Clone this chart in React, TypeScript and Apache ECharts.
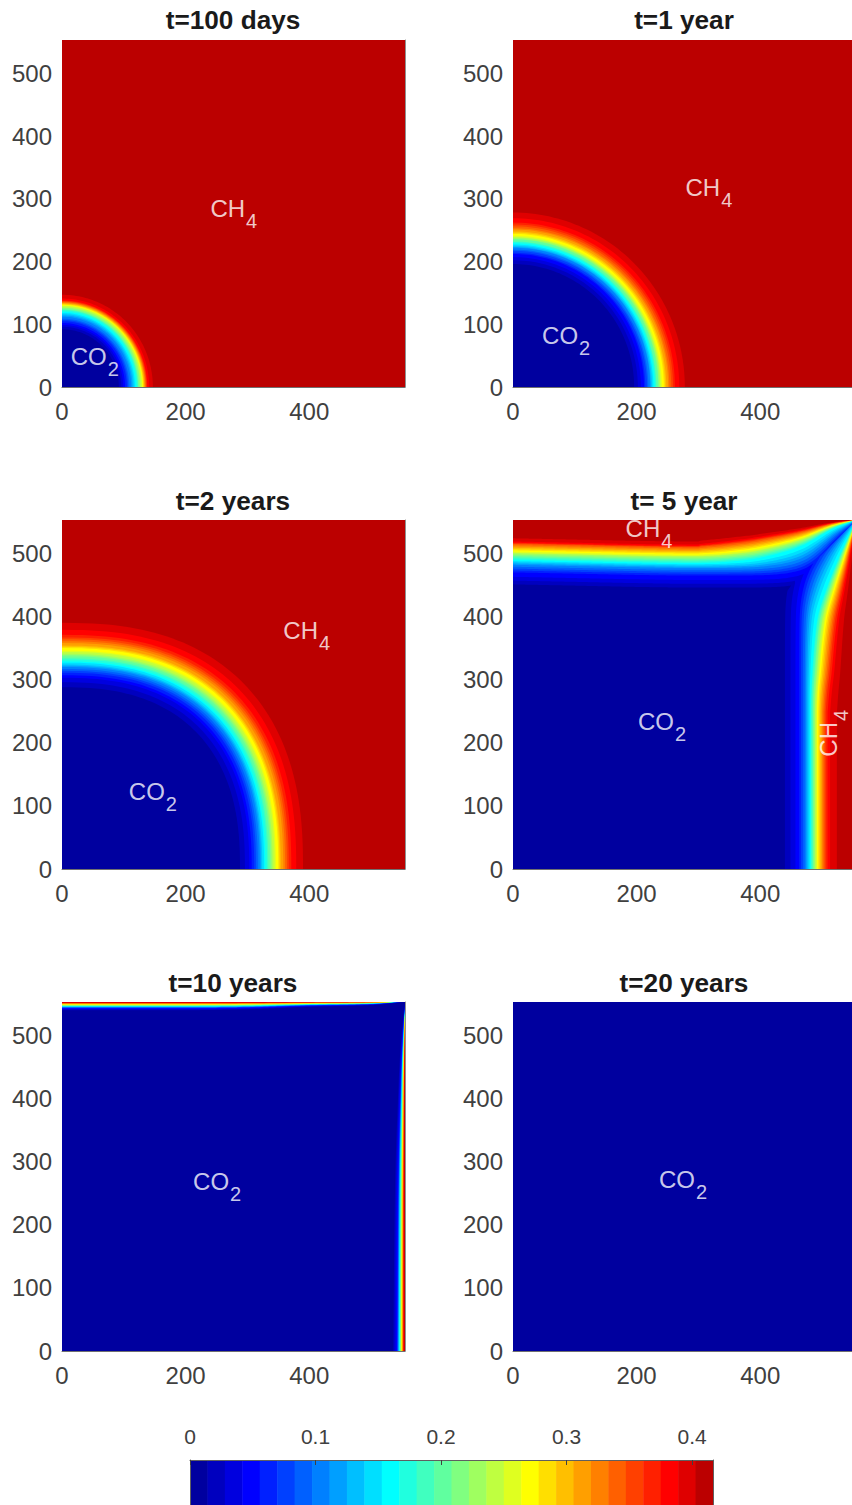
import React, { useEffect, useRef } from "react";
import * as echarts from "echarts";

// Filled-contour colours, low to high value (30 levels)
const bandColors = [
  "#00009F", "#0000BF", "#0000DF", "#0000FF", "#0020FF", "#0040FF", "#0060FF", "#0080FF", "#009FFF", "#00BFFF",
  "#00DFFF", "#00FFFF", "#20FFDF", "#40FFBF", "#60FF9F", "#80FF80", "#9FFF60", "#BFFF40", "#DFFF20", "#FFFF00",
  "#FFDF00", "#FFBF00", "#FF9F00", "#FF8000", "#FF6000", "#FF4000", "#FF2000", "#FF0000", "#DF0000", "#BB0000",
];

const titles = ["t=100 days", "t=1 year", "t=2 years", "t= 5 year", "t=10 years", "t=20 years"];
const xTicks = [0, 200, 400];
const yTicks = [0, 100, 200, 300, 400, 500];
const colorbarTicks = [0, 0.1, 0.2, 0.3, 0.4];
const colorbarMax = 0.4167;
const xDomain = 555;
const yDomain = 553;

// Distance of each contour (upper edge of bands 1..29) from the origin, read along y=0
const frontT100d = [92, 96, 99, 102, 105, 107, 109, 112, 114, 116, 118, 120, 122, 123, 124, 126, 127, 129, 130, 131, 132, 133, 134, 135, 136, 137, 138, 141, 147];
const frontT1y = [196, 202, 207, 212, 214, 217, 219, 222, 223, 225, 227, 229, 231, 232, 235, 236, 238, 239, 241, 244, 246, 248, 251, 253, 256, 259, 262, 269, 278];
const frontT2y = [288, 296, 303, 307, 311, 314, 317, 320, 322, 324, 327, 329, 332, 334, 337, 339, 341, 344, 346, 350, 352, 354, 358, 361, 364, 367, 371, 379, 390];
const frontT5y = [440, 449, 457, 463, 466, 469, 472, 474, 476, 478, 480, 482, 483, 485, 486, 488, 489, 491, 492, 494, 496, 498, 500, 502, 504, 506, 509, 513, 524];
const frontT5yTop = [446, 452, 458, 465, 468, 471, 474, 477, 479, 481, 483, 485, 487, 489, 491, 493, 495, 496, 498, 500, 502, 504, 506, 508, 510, 511, 512, 514, 519];
const frontT10y = [536, 538, 540, 542, 542.5, 543, 543.5, 544, 544.5, 545, 545.5, 546, 546.5, 547, 547.5, 548, 548.3, 548.6, 549, 549.5, 550, 550.5, 551, 551.3, 551.6, 552, 552.5, 553, 554];
const frontT10yTop = [540, 541, 542, 543, 543.4, 543.8, 544.2, 544.6, 545, 545.4, 545.7, 546, 546.4, 546.8, 547.2, 547.6, 548, 548.3, 548.6, 549, 549.4, 549.8, 550.2, 550.6, 551, 551.3, 551.6, 552, 552.5];
const frontT20y: number[] = [];

// How far the contours climb toward the top-right corner (position along the edge, fraction of the gap)
const topBend5y: [number, number][] = [[0, 0], [250, 0], [300, 0], [350, 0.03], [400, 0.12], [464, 0.38], [518, 0.8], [555, 1]];
const rightBend5y: [number, number][] = [[0, 0], [250, 0], [300, 0.02], [395, 0.14], [443, 0.34], [495, 0.63], [522, 0.8], [553, 1]];
const topRise5y: [number, number][] = [[0, 5], [100, 3], [200, 1], [280, 0], [555, 0]];
const topBend10y: [number, number][] = [[0, 0], [200, 0], [300, 0.1], [400, 0.4], [500, 0.6], [555, 1]];
const rightBend10y: [number, number][] = [[0, 0], [200, 0.1], [300, 0.2], [400, 0.4], [460, 0.55], [520, 0.8], [553, 1]];

// Text labels in data coordinates: [x, y, name, rotated]
const notesT100d: [number, number, string, boolean][] = [[53, 41, "CO", false], [278, 277, "CH", false]];
const notesT1y: [number, number, string, boolean][] = [[86, 75, "CO", false], [317, 310, "CH", false]];
const notesT2y: [number, number, string, boolean][] = [[147, 116, "CO", false], [396, 371, "CH", false]];
const notesT5y: [number, number, string, boolean][] = [[220, 533, "CH", false], [241, 226, "CO", false], [518, 215, "CH", true]];
const notesT10y: [number, number, string, boolean][] = [[251, 261, "CO", false]];
const notesT20y: [number, number, string, boolean][] = [[275, 264, "CO", false]];

const FONT = '"Liberation Sans", Arial, sans-serif';

const boxes = [
  { left: 62, top: 40, height: 347, titleTop: 7 }, { left: 513, top: 40, height: 347, titleTop: 7 },
  { left: 62, top: 520, height: 349, titleTop: 488 }, { left: 513, top: 520, height: 349, titleTop: 488 },
  { left: 62, top: 1002, height: 349, titleTop: 970 }, { left: 513, top: 1002, height: 349, titleTop: 970 },
];
const PANEL_W = 343;

const panels: any[] = [
  { front: frontT100d, notes: notesT100d, base: 29, roundness: 2 },
  { front: frontT1y, notes: notesT1y, base: 29, roundness: 2 },
  { front: frontT2y, notes: notesT2y, base: 29, roundness: 2.45 },
  { front: frontT5y, frontTop: frontT5yTop, notes: notesT5y, base: 29, top: topBend5y, right: rightBend5y, rise: topRise5y, shaped: true },
  { front: frontT10y, frontTop: frontT10yTop, notes: notesT10y, base: 29, top: topBend10y, right: rightBend10y },
  { front: frontT20y, notes: notesT20y, base: 0, roundness: 2 },
];

function lookup(tbl: [number, number][], x: number, limit = 1): number {
  let i = 0;
  while (i < tbl.length - 2 && x > tbl[i + 1][0]) i++;
  const [x0, y0] = tbl[i];
  const [x1, y1] = tbl[i + 1];
  const prev = tbl[Math.max(0, i - 1)];
  const next = tbl[Math.min(tbl.length - 1, i + 2)];
  const h = x1 - x0;
  const t = Math.min(1, Math.max(0, (x - x0) / h));
  const m0 = ((y1 - prev[1]) / (x1 - prev[0])) * h;
  const m1 = ((next[1] - y0) / (next[0] - x0)) * h;
  const t2 = t * t;
  const t3 = t2 * t;
  const v = (2 * t3 - 3 * t2 + 1) * y0 + (t3 - 2 * t2 + t) * m0 + (-2 * t3 + 3 * t2) * y1 + (t3 - t2) * m1;
  return Math.max(0, Math.min(limit, v));
}

function contourPoints(panel: any, band: number, reach: number, reachTop: number): number[][] {
  if (!panel.top) {
    const pts: number[][] = [[0, 0]];
    const e = 2 / panel.roundness;
    for (let d = 0; d <= 90; d += 1.5) {
      const a = (d * Math.PI) / 180;
      pts.push([reach * Math.pow(Math.max(0, Math.cos(a)), e), reach * Math.pow(Math.max(0, Math.sin(a)), e)]);
    }
    return pts;
  }
  let sharp = 1;
  if (panel.shaped) {
    sharp = band <= 11 ? 1 + (2 * (11 - band)) / 11 : 1 - ((band - 11) * 0.5) / 17;
  }
  const upper: number[][] = [];
  for (let x = 0; x <= xDomain; x += 3) {
    const rise = panel.rise ? lookup(panel.rise, x, 100) : 0;
    const y = reachTop + rise + (yDomain - reachTop - rise) * Math.pow(lookup(panel.top, x), sharp);
    if (y < x * (yDomain / xDomain)) break;
    upper.push([x, y]);
  }
  const side: number[][] = [];
  for (let y = 0; y <= yDomain; y += 3) {
    const x = reach + (xDomain - reach) * Math.pow(lookup(panel.right, y), sharp);
    if (x * (yDomain / xDomain) < y) break;
    side.push([x, y]);
  }
  if (upper[upper.length - 1][0] >= xDomain - 3) upper.push([xDomain, yDomain]);
  return [[0, 0], ...upper, ...side.reverse()];
}

function buildOption() {
  const grid: any[] = [];
  const xAxis: any[] = [];
  const yAxis: any[] = [];
  const series: any[] = [];
  const title: any[] = [];
  const tickText = { color: "#404040", fontFamily: FONT, fontSize: 24 };

  panels.forEach((panel, p) => {
    const box = boxes[p];
    grid.push({ left: box.left, top: box.top, width: PANEL_W, height: box.height, outerBoundsMode: "none", containLabel: false });
    title.push({
      text: titles[p],
      left: box.left + PANEL_W / 2 - 0.5,
      top: box.titleTop,
      padding: 0,
      textAlign: "center",
      textStyle: { color: "#1a1a1a", fontFamily: FONT, fontWeight: "bold", fontSize: 26.2 },
    });
    xAxis.push({
      type: "value", gridIndex: p, min: 0, max: xDomain, z: 5,
      splitLine: { show: false }, axisTick: { show: false },
      axisLine: { show: true, onZero: false, lineStyle: { color: "#707070", width: 1 } },
      axisLabel: { ...tickText, margin: 12, customValues: xTicks, formatter: (v: number) => String(v) },
    });
    yAxis.push({
      type: "value", gridIndex: p, min: 0, max: yDomain, z: 5, position: "left",
      splitLine: { show: false }, axisTick: { show: false }, axisLine: { show: false },
      axisLabel: { ...tickText, margin: 10, customValues: yTicks, formatter: (v: number) => String(v) },
    });
    yAxis.push({
      type: "value", gridIndex: p, min: 0, max: yDomain, z: 5, position: "right",
      splitLine: { show: false }, axisTick: { show: false }, axisLabel: { show: false },
      axisLine: { show: true, onZero: false, lineStyle: { color: "#909090", width: 1 } },
    });

    const rows = panel.front
      .map((reach: number, band: number) => [band, reach, panel.frontTop ? panel.frontTop[band] : reach])
      .reverse();
    series.push({
      type: "custom",
      xAxisIndex: p,
      yAxisIndex: p * 2,
      clip: true,
      silent: true,
      z: 2,
      data: [[panel.base, -1, -1], ...rows],
      encode: { x: 1, y: 2 },
      renderItem: (_: any, api: any) => {
        const band = api.value(0);
        const reach = api.value(1);
        const color = bandColors[band];
        const pts = reach < 0
          ? [[0, 0], [xDomain, 0], [xDomain, yDomain], [0, yDomain]]
          : contourPoints(panel, band, reach, api.value(2));
        return {
          type: "polygon",
          shape: { points: pts.map((q) => api.coord(q)) },
          style: { fill: color, stroke: "none" },
        };
      },
    });
    series.push({
      type: "scatter",
      xAxisIndex: p,
      yAxisIndex: p * 2,
      symbolSize: 1,
      itemStyle: { color: "transparent" },
      z: 4,
      silent: true,
      data: panel.notes.map((n: any) => ({
        value: [n[0], n[1]],
        label: {
          show: true,
          position: "inside",
          rotate: n[3] ? 90 : 0,
          formatter: n[2] === "CO" ? "{a|CO}{s|2}" : "{a|CH}{s|4}",
          rich: {
            a: { color: "#FFFFFF", fontFamily: FONT, fontSize: 24, padding: [0, 0, 9, 0] },
            s: { color: "#FFFFFF", fontFamily: FONT, fontSize: 20, padding: [16, 0, 0, 1] },
          },
        },
      })),
    });
  });

  // colour bar
  const c = panels.length;
  grid.push({ left: 190, top: 1460, width: 523, height: 100, outerBoundsMode: "none", containLabel: false });
  xAxis.push({
    type: "value", gridIndex: c, position: "top", min: 0, max: colorbarMax, z: 5,
    splitLine: { show: false },
    axisLine: { show: true, onZero: false, lineStyle: { color: "#606060", width: 1 } },
    axisTick: { show: true, inside: true, length: 5, customValues: colorbarTicks, lineStyle: { color: "#404040", width: 1 } },
    axisLabel: { color: "#404040", fontFamily: FONT, fontSize: 21, margin: 13, customValues: colorbarTicks, formatter: (v: number) => String(v) },
  });
  yAxis.push({
    type: "value", gridIndex: c, min: 0, max: 1, z: 5, position: "left",
    splitLine: { show: false }, axisTick: { show: false }, axisLabel: { show: false },
    axisLine: { show: true, onZero: false, lineStyle: { color: "#606060", width: 1 } },
  });
  yAxis.push({
    type: "value", gridIndex: c, min: 0, max: 1, z: 5, position: "right",
    splitLine: { show: false }, axisTick: { show: false }, axisLabel: { show: false },
    axisLine: { show: true, onZero: false, lineStyle: { color: "#606060", width: 1 } },
  });
  const step = colorbarMax / bandColors.length;
  series.push({
    type: "custom",
    xAxisIndex: c,
    yAxisIndex: c * 2,
    silent: true,
    z: 2,
    data: bandColors.map((_, i) => [i * step, (i + 1) * step, i]),
    encode: { x: [0, 1] },
    renderItem: (_: any, api: any) => {
      const a = api.coord([api.value(0), 1]);
      const b = api.coord([api.value(1), 0]);
      return {
        type: "rect",
        shape: { x: a[0], y: a[1], width: b[0] - a[0] + 0.5, height: b[1] - a[1] },
        style: { fill: bandColors[api.value(2)] },
      };
    },
  });

  return { animation: false, backgroundColor: "#ffffff", title, grid, xAxis, yAxis, series };
}

export default function App() {
  const ref = useRef<HTMLDivElement>(null);
  useEffect(() => {
    document.body.style.margin = "0";
    const chart = echarts.init(ref.current!, undefined, { renderer: "svg" });
    chart.setOption(buildOption() as any);
    return () => chart.dispose();
  }, []);
  return <div ref={ref} style={{ width: 852, height: 1505, overflow: "hidden" }} />;
}
